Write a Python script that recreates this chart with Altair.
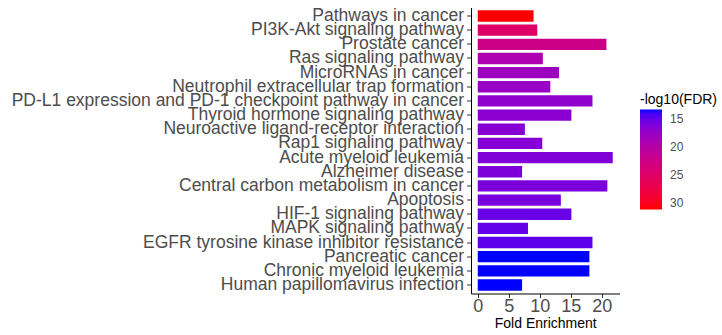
import altair as alt
import numpy as np
import pandas as pd

# KEGG pathway enrichment results, top to bottom as displayed
pathways = [
    "Pathways in cancer",
    "PI3K-Akt signaling pathway",
    "Prostate cancer",
    "Ras signaling pathway",
    "MicroRNAs in cancer",
    "Neutrophil extracellular trap formation",
    "PD-L1 expression and PD-1 checkpoint pathway in cancer",
    "Thyroid hormone signaling pathway",
    "Neuroactive ligand-receptor interaction",
    "Rap1 signaling pathway",
    "Acute myeloid leukemia",
    "Alzheimer disease",
    "Central carbon metabolism in cancer",
    "Apoptosis",
    "HIF-1 signaling pathway",
    "MAPK signaling pathway",
    "EGFR tyrosine kinase inhibitor resistance",
    "Pancreatic cancer",
    "Chronic myeloid leukemia",
    "Human papillomavirus infection",
]
fold_enrichment = [9.0, 9.6, 20.75, 10.5, 13.1, 11.7, 18.5, 15.1, 7.6, 10.4,
                   21.77, 7.15, 20.9, 13.4, 15.1, 8.1, 18.5, 18.0, 18.0, 7.15]
neg_log10_fdr = [31.07, 25.0, 22.3, 19.3, 18.0, 17.6, 17.0, 16.7, 16.5, 16.4,
                 16.1, 16.0, 15.9, 15.7, 15.1, 14.9, 14.7, 13.27, 13.27, 13.27]

legend_ticks = [15, 20, 25, 30]
x_ticks = [0, 5, 10, 15, 20]

df = pd.DataFrame({
    "pathway": pathways,
    "fold": fold_enrichment,
    "fdr": neg_log10_fdr,
})

# padded x range around the data (5% on each side of 0..max)
x_max = max(fold_enrichment)
x_pad = 0.05 * x_max
x_domain = [-x_pad, x_max + x_pad]


# --- red -> blue gradient interpolated in CIE Lab (D65 white) ---
_M = np.array([[0.4124564, 0.3575761, 0.1804375],
               [0.2126729, 0.7151522, 0.0721750],
               [0.0193339, 0.1191920, 0.9503041]])
_WHITE = np.array([0.95047, 1.0, 1.08883])


def _to_lab(hexcol):
    rgb = np.array([int(hexcol[i:i + 2], 16) / 255 for i in (1, 3, 5)])
    lin = np.where(rgb <= 0.04045, rgb / 12.92, ((rgb + 0.055) / 1.055) ** 2.4)
    xyz = _M @ lin / _WHITE
    f = np.where(xyz > 216 / 24389, np.cbrt(xyz), (24389 / 27 * xyz + 16) / 116)
    return np.array([116 * f[1] - 16, 500 * (f[0] - f[1]), 200 * (f[1] - f[2])])


def _to_hex(lab):
    fy = (lab[0] + 16) / 116
    f = np.array([fy + lab[1] / 500, fy, fy - lab[2] / 200])
    xyz = np.where(f ** 3 > 216 / 24389, f ** 3, (116 * f - 16) / (24389 / 27)) * _WHITE
    lin = np.linalg.solve(_M, xyz)
    lin = np.clip(lin, 0, 1)
    rgb = np.where(lin <= 0.0031308, 12.92 * lin, 1.055 * lin ** (1 / 2.4) - 0.055)
    return "#" + "".join(f"{int(round(c * 255)):02x}" for c in np.clip(rgb, 0, 1))


n_stops = 13
lab_hi, lab_lo = _to_lab("#ff0000"), _to_lab("#0000ff")
color_range = [_to_hex(lab_hi + (lab_lo - lab_hi) * t) for t in np.linspace(0, 1, n_stops)]
# descending domain so the colour bar reads low (blue) at the top
color_domain = [float(v) for v in np.linspace(max(neg_log10_fdr), min(neg_log10_fdr), n_stops)]

font = "Liberation Sans"

W, H = 722, 335
left, top = 471, 7.5
plot_w, plot_h = 148.5, 286

chart = (
    alt.Chart(df)
    .mark_bar()
    .encode(
        y=alt.Y(
            "pathway:N",
            sort=pathways,
            scale=alt.Scale(paddingInner=0.2, paddingOuter=0.2),
            axis=alt.Axis(
                title=None,
                labelFont=font,
                labelFontSize=17.5,
                labelColor="#4D4D4D",
                labelLimit=1000,
                labelPadding=3,
                tickSize=4.5,
                tickColor="#333333",
                domainColor="black",
                domainWidth=1,
                grid=False,
            ),
        ),
        x=alt.X(
            "fold:Q",
            scale=alt.Scale(domain=x_domain, nice=False, zero=False),
            axis=alt.Axis(
                title="Fold Enrichment",
                values=x_ticks,
                grid=False,
                labelFont=font,
                labelFontSize=18,
                labelColor="#4D4D4D",
                labelPadding=0,
                tickSize=4,
                tickColor="#333333",
                domainColor="black",
                domainWidth=1,
                titleFont=font,
                titleFontSize=14,
                titleFontWeight="normal",
                titleColor="black",
                titlePadding=1,
            ),
        ),
        x2=alt.datum(0),
        color=alt.Color(
            "fdr:Q",
            scale=alt.Scale(domain=color_domain, range=color_range),
            legend=alt.Legend(
                title="-log10(FDR)",
                orient="none",
                legendX=169,
                legendY=85,
                direction="vertical",
                values=legend_ticks,
                gradientLength=100,
                gradientThickness=22,
                gradientStrokeWidth=0,
                labelOffset=8,
                labelFont=font,
                labelFontSize=12,
                labelColor="#4D4D4D",
                titleFont=font,
                titleFontSize=14,
                titleFontWeight="normal",
                titleColor="black",
                titlePadding=3,
            ),
        ),
    )
    .properties(
        width=plot_w,
        height=plot_h,
        background="white",
        autosize=alt.AutoSizeParams(type="none"),
        padding={
            "left": left,
            "top": top,
            "right": W - left - plot_w,
            "bottom": H - top - plot_h,
        },
    )
    .configure_axis(grid=False)
    .configure_view(stroke=None, strokeWidth=0)
)

chart.save("out.html", embed_options={"renderer": "svg", "actions": False})
